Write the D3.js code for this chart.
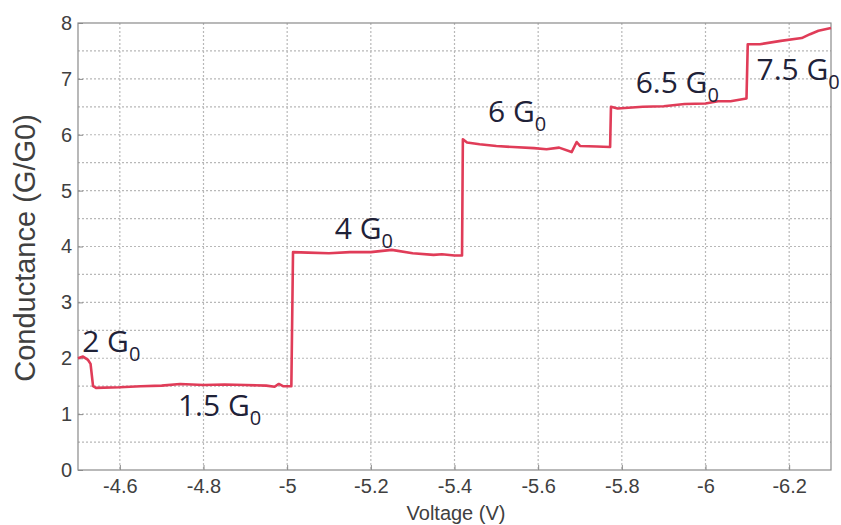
<!DOCTYPE html>
<html><head><meta charset="utf-8">
<script src="https://cdn.jsdelivr.net/npm/d3@7"></script>
<style>body{margin:0;background:#fff}</style>
</head><body>
<svg id="c" width="841" height="525"></svg>
<script>
const voltage = [-4.500,-4.512,-4.524,-4.530,-4.536,-4.543,-4.600,-4.650,-4.700,-4.744,-4.800,-4.850,-4.900,-4.950,-4.970,-4.980,-4.990,-5.010,
 -5.014,-5.050,-5.100,-5.150,-5.200,-5.250,-5.300,-5.350,-5.370,-5.400,-5.418,
 -5.420,-5.430,-5.460,-5.500,-5.540,-5.590,-5.620,-5.650,-5.680,-5.692,-5.700,-5.740,-5.772,
 -5.774,-5.790,-5.850,-5.900,-5.950,-6.000,-6.030,-6.060,-6.098,
 -6.101,-6.130,-6.180,-6.230,-6.250,-6.270,-6.300];
const conductance = [2.00,2.03,1.97,1.90,1.50,1.47,1.48,1.50,1.51,1.54,1.52,1.53,1.52,1.51,1.49,1.54,1.50,1.50,
 3.90,3.89,3.88,3.90,3.90,3.94,3.88,3.85,3.86,3.84,3.84,
 5.92,5.86,5.83,5.80,5.78,5.76,5.74,5.77,5.69,5.87,5.80,5.79,5.78,
 6.50,6.47,6.50,6.51,6.55,6.56,6.60,6.60,6.65,
 7.62,7.62,7.68,7.73,7.80,7.86,7.91];
const xTicks = [-4.6,-4.8,-5,-5.2,-5.4,-5.6,-5.8,-6,-6.2];
const yTicks = [0,1,2,3,4,5,6,7,8];
const yGrid = [0.5,1,1.5,2,2.5,3,3.5,4,4.5,5,5.5,6,6.5,7,7.5];
const labelMain = ["2","1.5","4","6","6.5","7.5"];
const labelV = [-4.51,-4.739,-5.114,-5.48,-5.833,-6.122];
const labelG = [2.11,0.97,4.13,6.23,6.74,6.98];

const svg = d3.select("#c");
const L=78,R=831,T=23,B=470;
const x = d3.scaleLinear().domain([-4.5,-6.3]).range([L,R]);
const y = d3.scaleLinear().domain([0,8]).range([B,T]);

const grid = svg.append("g").attr("stroke","#b8b8b8").attr("stroke-width",1.2).attr("stroke-dasharray","2,2");
grid.selectAll("line.v").data(xTicks).join("line").attr("x1",d=>x(d)).attr("x2",d=>x(d)).attr("y1",T).attr("y2",B);
grid.selectAll("line.h").data(yGrid).join("line").attr("y1",d=>y(d)).attr("y2",d=>y(d)).attr("x1",L).attr("x2",R);

svg.append("rect").attr("x",L).attr("y",T).attr("width",R-L).attr("height",B-T)
  .attr("fill","none").attr("stroke","#8a8a8a").attr("stroke-width",1.2);

const xa = svg.append("g").attr("transform",`translate(0,${B})`)
  .call(d3.axisBottom(x).tickValues(xTicks).tickFormat(d=>String(d)).tickSize(-5).tickPadding(9));
const ya = svg.append("g").attr("transform",`translate(${L},0)`)
  .call(d3.axisLeft(y).tickValues(yTicks).tickFormat(d=>String(d)).tickSize(-5).tickPadding(6));
[xa,ya].forEach(a=>{
  a.select(".domain").remove();
  a.selectAll(".tick line").attr("stroke","#8a8a8a");
  a.selectAll(".tick text").attr("fill","#404040").attr("font-family","Liberation Sans, Arial, sans-serif").attr("font-size",20);
});

svg.append("text").attr("x",456).attr("y",520).attr("text-anchor","middle")
  .attr("font-family","Liberation Sans, Arial, sans-serif").attr("font-size",20).attr("fill","#404040").text("Voltage (V)");
svg.append("text").attr("transform","translate(35,248) rotate(-90)").attr("text-anchor","middle")
  .attr("font-family","Liberation Sans, Arial, sans-serif").attr("font-size",29).attr("fill","#404040").text("Conductance (G/G0)");

const line = d3.line().x((d,i)=>x(voltage[i])).y((d,i)=>y(conductance[i]));
svg.append("path").datum(conductance).attr("d",line).attr("fill","none")
  .attr("stroke","#e03c58").attr("stroke-width",2.6).attr("stroke-linejoin","round");

const lab = svg.append("g").attr("font-family","Open Sans, sans-serif").attr("fill","#1f2238");
labelMain.forEach((t,i)=>{
  const tx = lab.append("text").attr("x",x(labelV[i])).attr("y",y(labelG[i])).attr("font-size",30);
  tx.append("tspan").text(t+" G");
  tx.append("tspan").attr("font-size",20).attr("dy",9).text("0");
});
</script>
</body></html>
